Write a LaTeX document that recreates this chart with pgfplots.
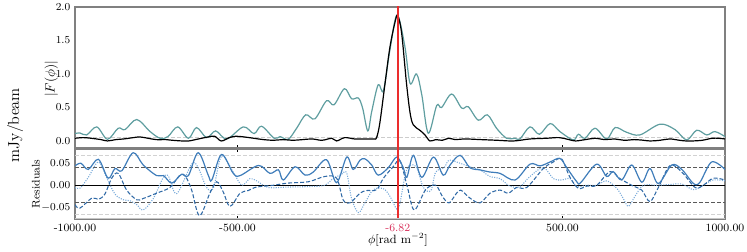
\documentclass[border=0pt]{standalone}
\usepackage{pgfplots}
\pgfplotsset{compat=1.18}
\definecolor{tealc}{HTML}{5F9EA0}
\definecolor{resA}{HTML}{3F7DBA}
\definecolor{resB}{HTML}{2F69A6}
\definecolor{resC}{HTML}{78AADA}
\definecolor{redl}{RGB}{235,45,45}
\definecolor{tickred}{HTML}{D8305A}
\begin{document}
\begin{tikzpicture}
\useasboundingbox (0,0) rectangle (560.25pt,-189pt);
\pgfplotsset{
  common/.style={
    scale only axis, width=487.5pt, anchor=north west,
    xmin=-1000, xmax=1000,
    xtick={-1000,-500,-6.82,500,1000},
    scaled ticks=false,
    tick align=inside, major tick length=2.5pt,
    axis line style={draw=gray, line width=0.9pt},
    tick style={black, line width=0.5pt},
    ytick style={draw=none},
    tick label style={font=\fontsize{8.3}{10}\selectfont},
    clip=true,
  }
}
% ---------------- top panel ----------------
\begin{axis}[common,
  at={(56.25pt,-5.25pt)}, height=105.75pt,
  ymin=-0.105, ymax=2.0,
  xticklabels={}, xtick pos=bottom,
  ytick={0,0.5,1,1.5,2},
  yticklabel style={/pgf/number format/fixed,/pgf/number format/fixed zerofill,/pgf/number format/precision=1},
]
\addplot[gray!40, line width=0.6pt, dash pattern=on 3pt off 1.5pt] coordinates {(-1000,0.05) (1000,0.05)};
\addplot[tealc, line width=0.9pt, smooth, tension=0.55] coordinates {
(-1000,0.11)(-985,0.12)(-964,0.09)(-933,0.21)(-900,0.025)(-867,0.19)(-846,0.17)(-810,0.32)(-769,0.14)(-738,0.04)(-714,0.065)(-684,0.21)(-651,0.04)(-626,0.20)(-595,0.05)(-567,0.15)(-533,0.03)(-482,0.21)(-449,0.11)(-426,0.22)(-387,0.04)(-369,0.065)(-344,0.025)(-318,0.19)(-290,0.39)(-262,0.33)(-226,0.60)(-203,0.54)(-171,0.78)(-149,0.63)(-128,0.64)(-115,0.49)(-99,0.15)(-87,0.44)(-67,0.84)(-51,0.75)(-31,1.36)(-9,1.88)(15,1.41)(31,0.86)(51,1.0)(67,0.69)(87,0.115)(113,0.53)(128,0.50)(159,0.70)(190,0.49)(210,0.51)(241,0.31)(269,0.39)(297,0.19)(328,0.04)(354,0.04)(369,0.03)(400,0.21)(429,0.10)(462,0.26)(492,0.14)(533,0.015)(549,0.10)(569,0.04)(600,0.19)(636,0.03)(662,0.20)(697,0.13)(738,0.09)(800,0.25)(846,0.17)(882,0.015)(913,0.16)(944,0.09)(969,0.14)(1000,0.065)
};
\addplot[black, line width=0.9pt, smooth, tension=0.55] coordinates {
(-1000,0.04)(-975,0.05)(-950,0.04)(-920,0.02)(-900,0.0)(-875,0.02)(-850,0.03)(-820,0.05)(-800,0.06)(-775,0.04)(-750,0.02)(-720,0.02)(-700,0.01)(-670,0.0)(-650,0.0)(-620,0.03)(-590,0.06)(-570,0.07)(-550,0.0)(-525,0.05)(-505,0.07)(-480,0.06)(-450,0.04)(-420,0.02)(-390,0.01)(-360,0.02)(-330,0.01)(-300,0.02)(-270,0.03)(-240,0.01)(-210,0.04)(-195,0.0)(-170,0.05)(-140,0.03)(-110,0.03)(-80,0.03)(-72,0.05)(-62,0.27)(-46,0.86)(-31,1.40)(-15,1.78)(-7,1.87)(5,1.61)(20,0.86)(31,0.42)(41,0.24)(61,0.16)(77,0.09)(92,0.0)(110,0.02)(130,0.01)(150,0.04)(170,0.02)(200,0.03)(250,0.02)(300,0.01)(350,0.0)(400,0.03)(450,0.04)(490,0.05)(520,0.02)(540,0.0)(570,0.02)(600,0.04)(630,0.02)(660,0.03)(690,0.01)(720,0.02)(740,0.015)(770,0.0)(800,0.01)(830,0.03)(860,0.01)(880,0.0)(900,0.0)(930,0.01)(960,0.04)(980,0.04)(1000,0.03)
};
\addplot[draw=redl, line width=1.2pt] coordinates {(-6.82,-1) (-6.82,3)};
\end{axis}
% ---------------- bottom panel ----------------
\begin{axis}[common,
  at={(56.25pt,-111.75pt)}, height=52.5pt,
  ymin=-0.0766, ymax=0.0824,
  xticklabels={-1000.00,-500.00,\textcolor{tickred}{-6.82},500.00,1000.00},
  xtick pos=both,
  ytick={-0.05,0,0.05},
  yticklabel style={/pgf/number format/fixed,/pgf/number format/fixed zerofill,/pgf/number format/precision=2},
]
\addplot[gray!35, line width=0.6pt, dash pattern=on 3pt off 1.5pt] coordinates {(-1000,0.067) (1000,0.067)};
\addplot[gray!35, line width=0.6pt, dash pattern=on 3pt off 1.5pt] coordinates {(-1000,-0.067) (1000,-0.067)};
\addplot[gray!70!black, line width=0.6pt, dash pattern=on 3pt off 1.5pt] coordinates {(-1000,0.040) (1000,0.040)};
\addplot[gray!70!black, line width=0.6pt, dash pattern=on 3pt off 1.5pt] coordinates {(-1000,-0.040) (1000,-0.040)};
\addplot[black, line width=0.9pt] coordinates {(-1000,0) (1000,0)};
\addplot[resC, line width=0.8pt, densely dotted, smooth, tension=0.55] coordinates {
(-1000,-0.005)(-985,-0.007)(-959,0.018)(-928,0.053)(-903,0.018)(-877,-0.020)(-851,-0.033)(-831,-0.035)(-810,-0.044)(-790,-0.056)(-759,-0.030)(-728,0.018)(-712,0.02)(-687,-0.019)(-641,0.048)(-621,0.04)(-595,-0.005)(-574,-0.006)(-549,0.066)(-513,0.030)(-487,0.0)(-462,0.015)(-441,0.010)(-405,-0.005)(-344,-0.004)(-282,-0.003)(-231,0.0)(-210,0.013)(-180,0.025)(-164,0.028)(-149,-0.03)(-128,-0.062)(-108,-0.040)(-82,-0.010)(-51,-0.008)(-31,-0.025)(-10,-0.054)(0,-0.040)(15,0.020)(28,0.045)(51,0.040)(72,-0.005)(95,-0.012)(110,0.030)(136,0.040)(151,0.057)(185,0.050)(215,0.042)(246,0.035)(277,0.020)(308,0.015)(338,-0.002)(369,-0.003)(400,0.020)(441,0.040)(472,0.015)(497,0.012)(523,0.015)(544,-0.003)(574,0.0)(605,0.0)(636,0.010)(667,-0.007)(687,-0.030)(703,-0.048)(723,-0.025)(749,0.0)(790,0.0)(836,0.002)(867,0.003)(903,-0.01)(933,0.0)(964,0.012)(1000,0.010)
};
\addplot[resB, line width=0.8pt, dash pattern=on 3pt off 1.5pt, smooth, tension=0.55] coordinates {
(-1000,-0.044)(-985,-0.052)(-948,-0.029)(-928,-0.032)(-908,-0.020)(-887,0.016)(-867,0.027)(-841,-0.011)(-810,-0.033)(-790,-0.030)(-749,-0.018)(-708,-0.005)(-677,0.023)(-660,0.020)(-641,-0.011)(-617,-0.069)(-585,-0.018)(-564,0.008)(-544,-0.015)(-523,-0.048)(-492,-0.018)(-467,-0.012)(-441,-0.004)(-390,0.0)(-344,0.005)(-282,0.008)(-231,0.02)(-195,0.016)(-175,-0.033)(-154,-0.040)(-123,-0.018)(-103,-0.012)(-72,-0.010)(-51,0.016)(-21,0.042)(0,0.055)(23,-0.005)(44,-0.056)(79,-0.010)(110,0.0)(131,-0.026)(151,-0.040)(172,-0.020)(187,-0.011)(215,-0.029)(246,-0.040)(277,-0.018)(308,-0.011)(333,-0.018)(359,-0.005)(390,-0.005)(441,0.038)(472,0.053)(497,0.060)(523,0.018)(549,-0.007)(574,-0.002)(605,0.0)(646,0.031)(677,0.015)(718,-0.002)(744,-0.011)(769,-0.037)(795,-0.005)(831,0.045)(867,0.030)(908,-0.005)(933,0.0)(964,0.016)(1000,0.012)
};
\addplot[resA, line width=0.9pt, smooth, tension=0.55] coordinates {
(-1000,0.044)(-982,0.050)(-959,0.036)(-928,0.059)(-898,0.016)(-877,0.038)(-856,0.033)(-821,0.074)(-790,0.046)(-749,0.022)(-728,0.022)(-702,0.005)(-672,0.025)(-651,0.022)(-621,0.074)(-590,0.023)(-579,0.012)(-549,0.070)(-513,0.027)(-492,0.022)(-435,0.045)(-400,0.027)(-374,0.035)(-359,0.012)(-323,0.042)(-292,0.023)(-267,0.03)(-226,0.058)(-195,0.006)(-164,0.064)(-144,0.036)(-123,0.057)(-108,0.060)(-87,0.046)(-67,0.023)(-36,0.040)(-10,0.064)(10,0.040)(21,0.018)(41,0.068)(67,0.018)(103,0.064)(133,0.023)(154,0.046)(185,0.068)(215,0.040)(246,0.035)(277,0.030)(308,0.027)(354,0.012)(400,0.048)(431,0.044)(462,0.053)(492,0.061)(513,0.040)(544,0.008)(556,0.006)(605,0.048)(636,0.020)(656,0.031)(682,0.012)(713,0.046)(744,0.007)(769,0.038)(795,0.004)(836,0.046)(867,0.036)(903,0.004)(923,0.007)(959,0.053)(1000,0.036)
};
\addplot[draw=redl, line width=1.2pt] coordinates {(-6.82,-1) (-6.82,1)};
\draw[gray!45, line width=1.6pt] (rel axis cs:0,0) -- (rel axis cs:1,0);
\end{axis}
% ---------------- labels ----------------
\node[rotate=90, font=\fontsize{12}{14}\selectfont] at (11.25pt,-94pt) {$\mathrm{mJy/beam}$};
\node[rotate=90, font=\fontsize{10}{12}\selectfont] at (38.5pt,-59pt) {$|F(\phi)|$};
\node[rotate=90, font=\fontsize{8.3}{10}\selectfont] at (27pt,-138pt) {Residuals};
\node[font=\fontsize{9}{11}\selectfont] at (298.5pt,-180pt) {$\phi[\mathrm{rad\ m^{-2}}]$};
\end{tikzpicture}
\end{document}
